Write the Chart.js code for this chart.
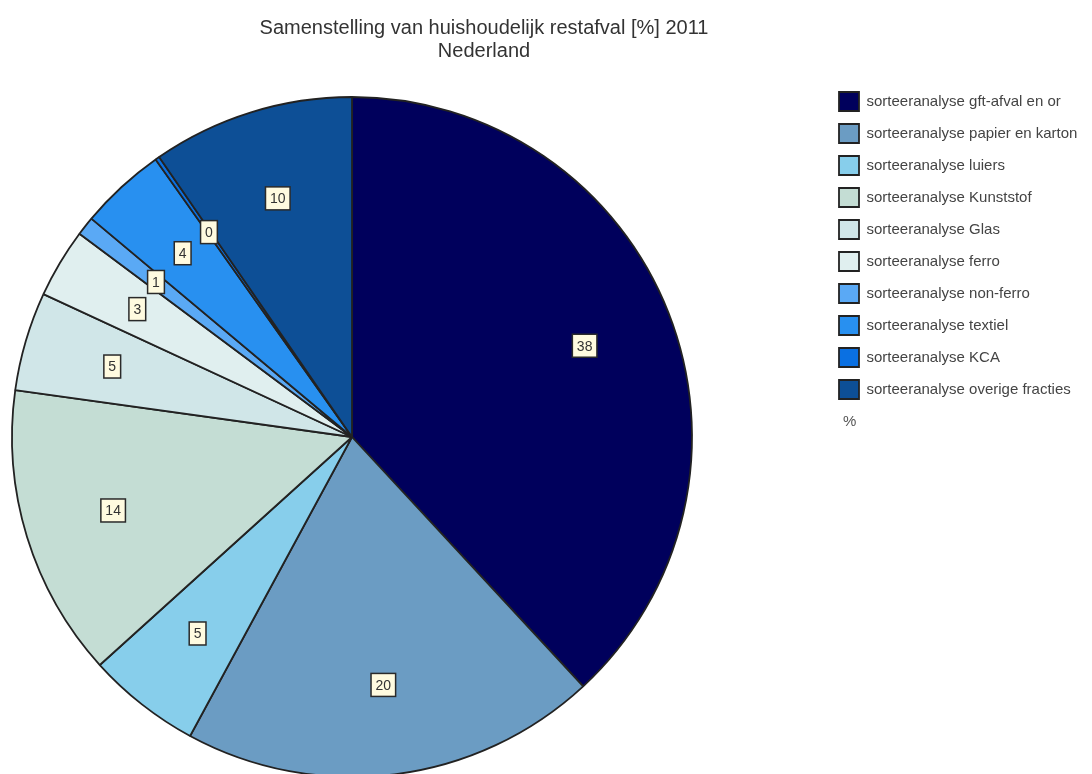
<!DOCTYPE html>
<html>
<head>
<meta charset="utf-8">
<script src="https://cdn.jsdelivr.net/npm/chart.js@4.4.1/dist/chart.umd.min.js"></script>
<style>
  html, body { margin: 0; padding: 0; background: #fff; overflow: hidden; }
  #wrap { width: 1092px; height: 796px; }
</style>
</head>
<body>
<div id="wrap"><canvas id="chart"></canvas></div>
<script>
const categories = [
  'sorteeranalyse gft-afval en or',
  'sorteeranalyse papier en karton',
  'sorteeranalyse luiers',
  'sorteeranalyse Kunststof',
  'sorteeranalyse Glas',
  'sorteeranalyse ferro',
  'sorteeranalyse non-ferro',
  'sorteeranalyse textiel',
  'sorteeranalyse KCA',
  'sorteeranalyse overige fracties'
];
const percentages = [38.1, 19.8, 5.4, 13.9, 4.7, 3.3, 0.9, 4.1, 0.2, 9.6];
const sliceColors = [
  '#00005c', '#6b9cc3', '#87ceeb', '#c4ddd4', '#d0e6e8',
  '#e0efef', '#5aa9f5', '#2890f0', '#0a70e2', '#0d4f96'
];
const titleLines = ['Samenstelling van huishoudelijk restafval [%] 2011', 'Nederland'];
const unitLabel = '%';

const FONT = '"Liberation Sans", Arial, sans-serif';

// pie sits left of centre and the legend far right, so place both after layout
const placeBoxes = {
  id: 'placeBoxes',
  afterLayout(chart) {
    const a = chart.chartArea;
    a.left = 12; a.right = 692; a.width = 680;
    a.top = 97; a.bottom = 777; a.height = 680;
    const lg = chart.legend;
    if (lg) {
      const dx = 826 - lg.left;
      const dy = 79 - lg.top;
      lg.left += dx; lg.right += dx;
      lg.top += dy; lg.bottom += dy;
    }
    const tb = chart.titleBlock;
    if (tb) {
      const shift = 484 - (tb.left + tb.right) / 2;
      tb.left += shift; tb.right += shift;
    }
  }
};

// value boxes drawn on the slices
const valueBoxes = {
  id: 'valueBoxes',
  afterDatasetsDraw(chart) {
    const ctx = chart.ctx;
    const meta = chart.getDatasetMeta(0);
    ctx.save();
    ctx.font = '14px ' + FONT;
    ctx.textAlign = 'center';
    ctx.textBaseline = 'middle';
    meta.data.forEach((arc, i) => {
      const p = arc.getProps(['x', 'y', 'startAngle', 'endAngle', 'outerRadius'], true);
      const mid = (p.startAngle + p.endAngle) / 2;
      const r = p.outerRadius * 0.735;
      const x = p.x + Math.cos(mid) * r;
      const y = p.y + Math.sin(mid) * r;
      const txt = String(Math.round(percentages[i]));
      const w = ctx.measureText(txt).width + 9;
      const h = 23;
      ctx.fillStyle = '#fffbe0';
      ctx.fillRect(x - w / 2, y - h / 2, w, h);
      ctx.lineWidth = 1.5;
      ctx.strokeStyle = '#2a2a2a';
      ctx.strokeRect(x - w / 2, y - h / 2, w, h);
      ctx.fillStyle = '#333';
      ctx.fillText(txt, x, y + 1);
    });
    ctx.restore();
  },
  afterDraw(chart) {
    const lg = chart.legend;
    if (!lg) return;
    const ctx = chart.ctx;
    ctx.save();
    ctx.font = '15px ' + FONT;
    ctx.fillStyle = '#555';
    ctx.textBaseline = 'middle';
    ctx.fillText(unitLabel, lg.left + 17, lg.top + 13 + 10 * 32 + 9.5);
    ctx.restore();
  }
};

new Chart(document.getElementById('chart'), {
  type: 'pie',
  data: {
    labels: categories,
    datasets: [{
      data: percentages,
      backgroundColor: sliceColors,
      borderColor: '#222',
      borderWidth: 1.8,
      radius: 340
    }]
  },
  options: {
    responsive: true,
    maintainAspectRatio: false,
    animation: false,
    plugins: {
      title: {
        display: true,
        text: titleLines,
        color: '#333',
        font: { family: FONT, size: 20, weight: 'normal', lineHeight: 1.15 },
        padding: { top: 17, bottom: 16 }
      },
      legend: {
        position: 'right',
        align: 'start',
        fullSize: false,
        labels: {
          boxWidth: 20,
          boxHeight: 19,
          padding: 13,
          color: '#444',
          font: { family: FONT, size: 15 }
        }
      },
      tooltip: { enabled: false }
    }
  },
  plugins: [placeBoxes, valueBoxes]
});
</script>
</body>
</html>
